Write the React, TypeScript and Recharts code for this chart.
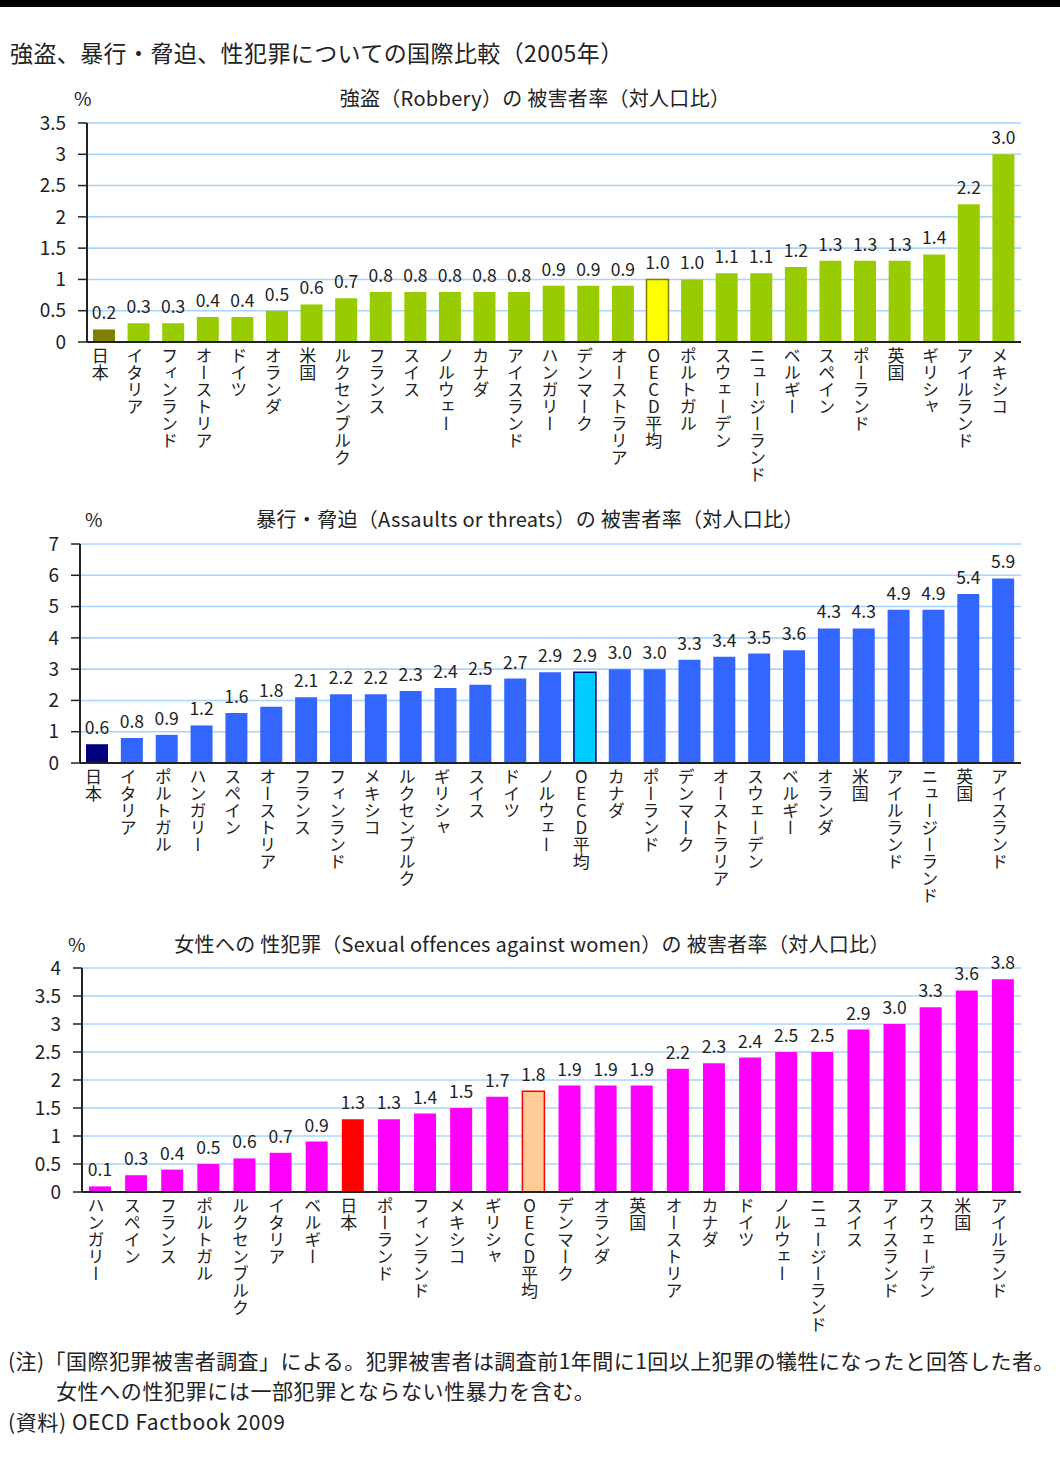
import React from 'react';
import { BarChart, Bar, XAxis, YAxis, CartesianGrid, Cell, LabelList } from 'recharts';

const FONT = '"Noto Sans CJK JP", "Noto Sans", sans-serif';

// 強盗
const robberyCountries = ['日本', 'イタリア', 'フィンランド', 'オーストリア', 'ドイツ', 'オランダ', '米国', 'ルクセンブルク', 'フランス', 'スイス', 'ノルウェー', 'カナダ', 'アイスランド', 'ハンガリー', 'デンマーク', 'オーストラリア', 'OECD平均', 'ポルトガル', 'スウェーデン', 'ニュージーランド', 'ベルギー', 'スペイン', 'ポーランド', '英国', 'ギリシャ', 'アイルランド', 'メキシコ'];
const robberyValues = [0.2, 0.3, 0.3, 0.4, 0.4, 0.5, 0.6, 0.7, 0.8, 0.8, 0.8, 0.8, 0.8, 0.9, 0.9, 0.9, 1.0, 1.0, 1.1, 1.1, 1.2, 1.3, 1.3, 1.3, 1.4, 2.2, 3.0];
const robberyTicks = [0, 0.5, 1, 1.5, 2, 2.5, 3, 3.5];

// 暴行・脅迫
const assaultCountries = ['日本', 'イタリア', 'ポルトガル', 'ハンガリー', 'スペイン', 'オーストリア', 'フランス', 'フィンランド', 'メキシコ', 'ルクセンブルク', 'ギリシャ', 'スイス', 'ドイツ', 'ノルウェー', 'OECD平均', 'カナダ', 'ポーランド', 'デンマーク', 'オーストラリア', 'スウェーデン', 'ベルギー', 'オランダ', '米国', 'アイルランド', 'ニュージーランド', '英国', 'アイスランド'];
const assaultValues = [0.6, 0.8, 0.9, 1.2, 1.6, 1.8, 2.1, 2.2, 2.2, 2.3, 2.4, 2.5, 2.7, 2.9, 2.9, 3.0, 3.0, 3.3, 3.4, 3.5, 3.6, 4.3, 4.3, 4.9, 4.9, 5.4, 5.9];
const assaultTicks = [0, 1, 2, 3, 4, 5, 6, 7];

// 女性への性犯罪
const sexualCountries = ['ハンガリー', 'スペイン', 'フランス', 'ポルトガル', 'ルクセンブルク', 'イタリア', 'ベルギー', '日本', 'ポーランド', 'フィンランド', 'メキシコ', 'ギリシャ', 'OECD平均', 'デンマーク', 'オランダ', '英国', 'オーストリア', 'カナダ', 'ドイツ', 'ノルウェー', 'ニュージーランド', 'スイス', 'アイスランド', 'スウェーデン', '米国', 'アイルランド'];
const sexualValues = [0.1, 0.3, 0.4, 0.5, 0.6, 0.7, 0.9, 1.3, 1.3, 1.4, 1.5, 1.7, 1.8, 1.9, 1.9, 1.9, 2.2, 2.3, 2.4, 2.5, 2.5, 2.9, 3.0, 3.3, 3.6, 3.8];
const sexualTicks = [0, 0.5, 1, 1.5, 2, 2.5, 3, 3.5, 4];

const VerticalTick = (props: any) => {
  const { x, y, payload } = props;
  return (
    <text
      x={x - 4}
      y={y - 3}
      textAnchor="start"
      fontSize={17}
      fill="#222"
      fontFamily={FONT}
      style={{ writingMode: 'vertical-rl', textOrientation: 'upright' } as any}
    >
      {payload.value}
    </text>
  );
};

interface PanelProps {
  top: number;
  height: number;
  marginTop: number;
  marginLeft: number;
  axisHeight: number;
  countries: string[];
  values: number[];
  ticks: number[];
  base: string;
  japan: string;
  oecd: string;
  oecdStroke: string;
  title: string;
  titleY: number;
  titleShift: number;
  pctX: number;
}

const Panel = (p: PanelProps) => {
  const data = p.countries.map((name, i) => ({ name, value: p.values[i] }));
  const fillFor = (name: string) => (name === '日本' ? p.japan : name === 'OECD平均' ? p.oecd : p.base);
  return (
    <>
      <div style={{ position: 'absolute', left: p.pctX, top: p.titleY - 13, fontSize: 19, lineHeight: '26px' }}>%</div>
      <div
        style={{
          position: 'absolute',
          left: p.titleShift,
          width: 1060,
          top: p.titleY - 13,
          textAlign: 'center',
          fontSize: 20,
          letterSpacing: 0.3,
          lineHeight: '26px',
          whiteSpace: 'nowrap',
        }}
      >
        {p.title}
      </div>
      <div style={{ position: 'absolute', left: 0, top: p.top }}>
        <BarChart
          width={1060}
          height={p.height}
          data={data}
          margin={{ top: p.marginTop, right: 39, left: p.marginLeft, bottom: 0 }}
          barSize={22}
        >
          <CartesianGrid vertical={false} stroke="#a8d4ff" strokeWidth={1.6} />
          <XAxis
            dataKey="name"
            interval={0}
            tickLine={false}
            axisLine={{ stroke: '#222', strokeWidth: 2 }}
            height={p.axisHeight}
            tick={<VerticalTick />}
          />
          <YAxis
            width={60}
            domain={[0, p.ticks[p.ticks.length - 1]]}
            ticks={p.ticks}
            interval={0}
            tickSize={9}
            tickMargin={12}
            axisLine={{ stroke: '#222', strokeWidth: 2 }}
            tickLine={{ stroke: '#222', strokeWidth: 1.5 }}
            tick={{ fontSize: 19, fill: '#222', fontFamily: FONT }}
          />
          <Bar dataKey="value" isAnimationActive={false}>
            {data.map((d) => (
              <Cell
                key={d.name}
                fill={fillFor(d.name)}
                stroke={d.name === 'OECD平均' ? p.oecdStroke : 'none'}
                strokeWidth={d.name === 'OECD平均' ? 1.5 : 0}
              />
            ))}
            <LabelList
              dataKey="value"
              position="top"
              offset={10}
              formatter={(v: any) => Number(v).toFixed(1)}
              style={{ fontSize: 17.5, fill: '#222', fontFamily: FONT }}
            />
          </Bar>
        </BarChart>
      </div>
    </>
  );
};

export default function App() {
  return (
    <div
      style={{
        position: 'absolute',
        left: 0,
        top: 0,
        width: 1060,
        height: 1479,
        background: '#fff',
        overflow: 'hidden',
        fontFamily: FONT,
        color: '#222',
      }}
    >
      <div style={{ position: 'absolute', left: 0, top: 0, width: 1060, height: 7, background: '#000' }} />
      <div style={{ position: 'absolute', left: 10, top: 36, fontSize: 23, letterSpacing: 0.4, lineHeight: '32px', whiteSpace: 'nowrap' }}>
        強盗、暴行・脅迫、性犯罪についての国際比較（2005年）
      </div>

      <Panel
        top={80}
        height={432}
        marginTop={43}
        marginLeft={27}
        axisHeight={170}
        countries={robberyCountries}
        values={robberyValues}
        ticks={robberyTicks}
        base="#99cc00"
        japan="#808000"
        oecd="#ffff00"
        oecdStroke="#808000"
        title="強盗（Robbery）の 被害者率（対人口比）"
        titleY={98}
        titleShift={5}
        pctX={74}
      />
      <Panel
        top={505}
        height={428}
        marginTop={39}
        marginLeft={20}
        axisHeight={170}
        countries={assaultCountries}
        values={assaultValues}
        ticks={assaultTicks}
        base="#3366ff"
        japan="#000080"
        oecd="#00ccff"
        oecdStroke="#000080"
        title="暴行・脅迫（Assaults or threats）の 被害者率（対人口比）"
        titleY={519}
        titleShift={0}
        pctX={85}
      />
      <Panel
        top={930}
        height={432}
        marginTop={38}
        marginLeft={22}
        axisHeight={170}
        countries={sexualCountries}
        values={sexualValues}
        ticks={sexualTicks}
        base="#ff00ff"
        japan="#ff0000"
        oecd="#ffcc99"
        oecdStroke="#ff0000"
        title="女性への 性犯罪（Sexual offences against women）の 被害者率（対人口比）"
        titleY={944}
        titleShift={2}
        pctX={68}
      />

      <div style={{ position: 'absolute', left: 8, top: 1345, fontSize: 21, letterSpacing: 0.45, lineHeight: '30px', whiteSpace: 'nowrap' }}>
        (注)「国際犯罪被害者調査」による。犯罪被害者は調査前1年間に1回以上犯罪の犠牲になったと回答した者。
      </div>
      <div style={{ position: 'absolute', left: 56, top: 1375, fontSize: 21, letterSpacing: 0.6, lineHeight: '30px', whiteSpace: 'nowrap' }}>
        女性への性犯罪には一部犯罪とならない性暴力を含む。
      </div>
      <div style={{ position: 'absolute', left: 8, top: 1406, fontSize: 21, letterSpacing: 0.6, lineHeight: '30px', whiteSpace: 'nowrap' }}>
        (資料) OECD Factbook 2009
      </div>
    </div>
  );
}
